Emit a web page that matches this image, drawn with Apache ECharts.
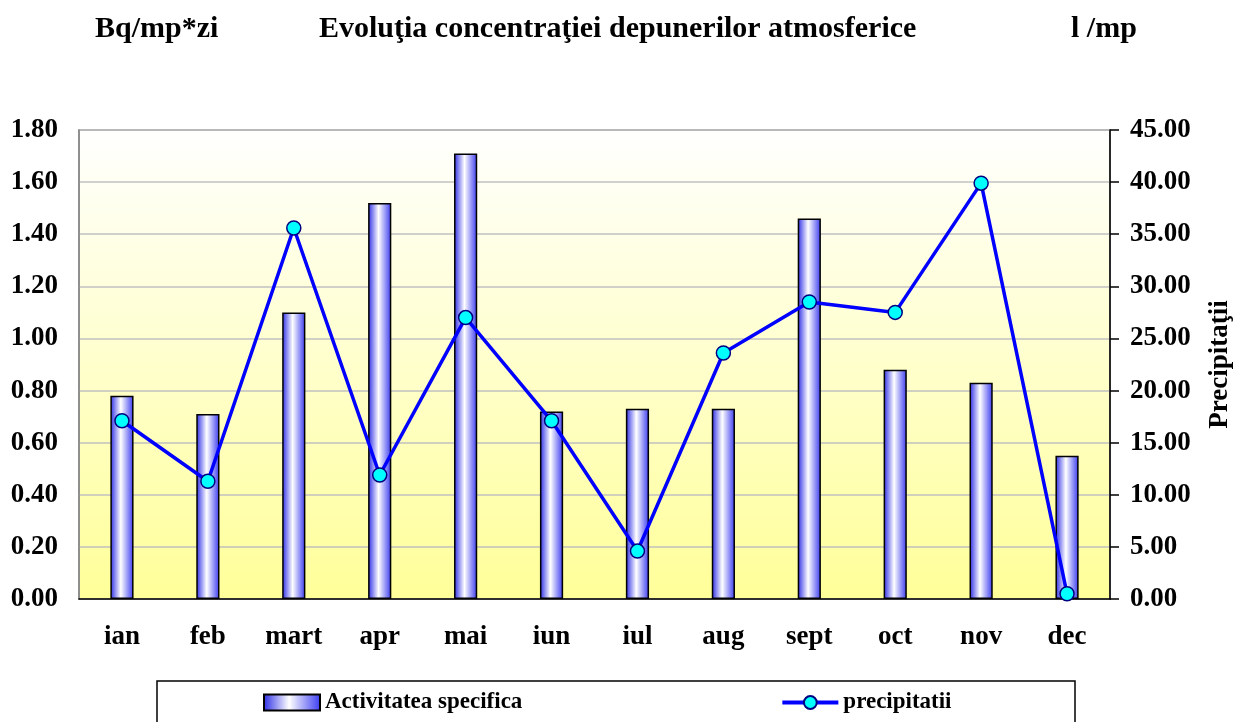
<!DOCTYPE html>
<html>
<head>
<meta charset="utf-8">
<title>Evolutia concentratiei depunerilor atmosferice</title>
<script src="https://cdn.jsdelivr.net/npm/echarts@6/dist/echarts.min.js"></script>
<style>
  html, body { margin: 0; padding: 0; background: #fff; }
  #myChart { width: 1245px; height: 722px; }
</style>
</head>
<body>
<div id="myChart"></div>
<script>
// date
var luni = ['ian', 'feb', 'mart', 'apr', 'mai', 'iun', 'iul', 'aug', 'sept', 'oct', 'nov', 'dec']
var activitate = [0.78, 0.71, 1.10, 1.52, 1.71, 0.72, 0.73, 0.73, 1.46, 0.88, 0.83, 0.55] // Bq/mp*zi
var precipitatii = [17.1, 11.3, 35.6, 11.9, 27.0, 17.1, 4.6, 23.6, 28.5, 27.5, 39.9, 0.5] // l/mp

var font = '"Liberation Serif", "Times New Roman", serif'
var titleStyle = { fontFamily: font, fontSize: 30, fontWeight: 'bold', color: '#000' }

var myChart = echarts.init(document.getElementById('myChart'))
myChart.setOption({
  animation: false,
  textStyle: { fontFamily: font },
  title: [
    { text: 'Bq/mp*zi', left: 90, top: 9, textStyle: titleStyle },
    { text: 'Evoluţia concentraţiei depunerilor atmosferice', left: 314, top: 9, textStyle: titleStyle },
    { text: 'l /mp', left: 1066, top: 9, textStyle: titleStyle }
  ],
  grid: {
    left: 79,
    right: 135,
    top: 130,
    bottom: 123,
    show: true,
    borderColor: '#888',
    borderWidth: 1.5,
    // fundal alb sus -> galben jos
    backgroundColor: new echarts.graphic.LinearGradient(0, 0, 0, 1, [
      { offset: 0, color: '#ffffff' },
      { offset: 1, color: '#ffff99' }
    ])
  },
  legend: {
    left: 258,
    top: 686,
    itemGap: 258,
    itemWidth: 56,
    itemHeight: 16,
    lineStyle: { width: 4 },
    textStyle: { fontFamily: font, fontSize: 23, fontWeight: 'bold', color: '#000' },
    data: [
      { name: 'Activitatea specifica', icon: 'rect' },
      { name: 'precipitatii' }
    ]
  },
  graphic: [
    {
      type: 'rect',
      shape: { x: 157, y: 681, width: 918, height: 50 },
      style: { fill: 'none', stroke: '#000', lineWidth: 1.5 },
      z: -1
    }
  ],
  xAxis: {
    type: 'category',
    data: luni,
    axisLine: { lineStyle: { color: '#000', width: 1.5 } },
    axisTick: { length: 8, lineStyle: { color: '#000', width: 1.5 } },
    axisLabel: { margin: 25, fontFamily: font, fontSize: 27, fontWeight: 'bold', color: '#000' }
  },
  yAxis: [
    {
      type: 'value',
      min: 0,
      max: 1.8,
      interval: 0.2,
      axisLine: { show: true, lineStyle: { color: '#888', width: 1.5 } },
      axisTick: { show: false },
      splitLine: { lineStyle: { color: '#c0c0c0', width: 1.5 } },
      axisLabel: {
        margin: 21,
        fontFamily: font,
        fontSize: 27,
        fontWeight: 'bold',
        color: '#000',
        formatter: function (v) { return v.toFixed(2) }
      }
    },
    {
      type: 'value',
      min: 0,
      max: 45,
      interval: 5,
      name: 'Precipitaţii',
      nameLocation: 'middle',
      nameRotate: 90,
      nameGap: 97,
      nameTextStyle: { fontFamily: font, fontSize: 27, fontWeight: 'bold', color: '#000' },
      axisLine: { show: true, lineStyle: { color: '#000', width: 1.5 } },
      axisTick: { show: true, length: 9, lineStyle: { color: '#000', width: 1.5 } },
      splitLine: { show: false },
      axisLabel: {
        margin: 20,
        fontFamily: font,
        fontSize: 27,
        fontWeight: 'bold',
        color: '#000',
        formatter: function (v) { return v.toFixed(2) }
      }
    }
  ],
  series: [
    {
      name: 'Activitatea specifica',
      type: 'bar',
      yAxisIndex: 0,
      data: activitate,
      barWidth: '27%',
      itemStyle: {
        // bara "cilindru": albastru - alb - albastru
        color: new echarts.graphic.LinearGradient(0, 0, 1, 0, [
          { offset: 0, color: '#2a2ae6' },
          { offset: 0.45, color: '#ffffff' },
          { offset: 1, color: '#3a3af0' }
        ]),
        borderColor: '#000',
        borderWidth: 1.5
      }
    },
    {
      name: 'precipitatii',
      type: 'line',
      yAxisIndex: 1,
      data: precipitatii,
      symbol: 'circle',
      symbolSize: 14,
      lineStyle: { color: '#0000ff', width: 3.5 },
      itemStyle: { color: '#00ffff', borderColor: '#000080', borderWidth: 1.5 },
      z: 3
    }
  ]
})
window.addEventListener('resize', function () {
  myChart.resize()
})
</script>
</body>
</html>
